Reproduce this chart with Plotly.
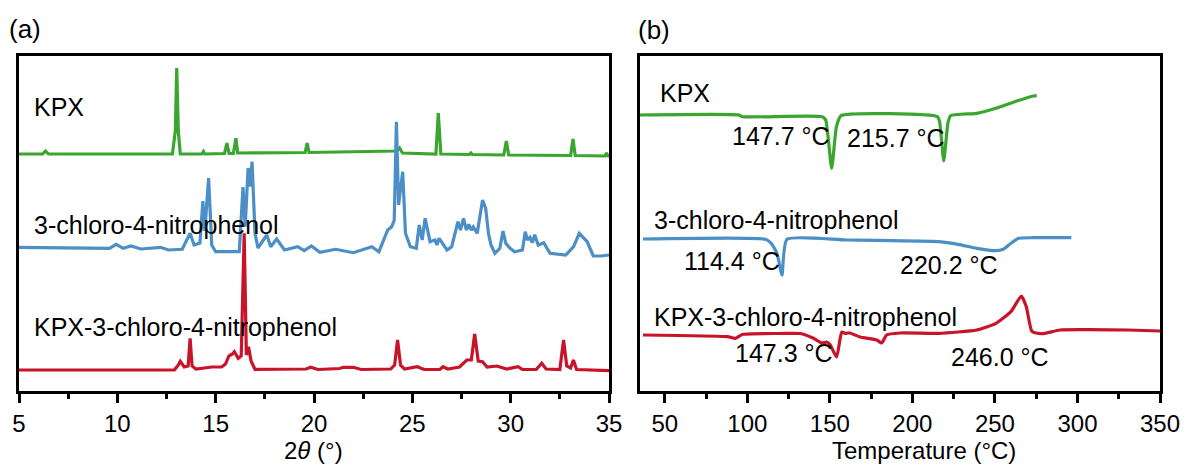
import plotly.graph_objects as go

# ---------------- Panel (a): XRD (2theta, intensity a.u., offset included) -------------
kpx_xrd_2theta = [5.0, 6.2, 6.35, 6.5, 12.8, 12.95, 13.02, 13.1, 13.2, 14.3, 14.38, 14.45,
                  15.45, 15.57, 15.68, 15.9, 16.03, 16.12, 19.55, 19.65, 19.75, 22.0, 24.2,
                  24.35, 24.5, 26.2, 26.32, 26.45, 27.9, 27.98, 28.05, 29.65, 29.78, 29.9,
                  33.05, 33.17, 33.28, 34.8, 34.87, 34.95, 35.0]
kpx_xrd_int = [237, 237, 240, 237, 237, 260, 323, 260, 237, 237, 239.5, 237,
               237.5, 248, 237.5, 237.5, 252.7, 238, 238.5, 248, 238.5, 239.5, 240,
               243, 238, 237, 278, 237, 236.5, 238, 236.5, 236, 250, 236,
               235.5, 252, 235.5, 235, 238, 235, 235]

cnp_xrd_2theta = [5.0, 9.6, 9.94, 10.3, 10.69, 11.2, 12.2, 12.6, 13.3, 13.5, 13.7, 13.9,
                  14.2, 14.35, 14.45, 14.64, 14.8, 15.0, 16.2, 16.39, 16.5, 16.65, 16.75,
                  16.85, 17.0, 17.15, 17.6, 17.8, 18.1, 18.5, 19.17, 19.5, 19.87, 20.3,
                  21.1, 22.0, 22.94, 23.3, 23.75, 23.95, 24.08, 24.19, 24.3, 24.51, 24.65,
                  24.9, 25.2, 25.35, 25.5, 25.65, 25.9, 26.15, 26.25, 26.36, 26.76, 27.0,
                  27.32, 27.45, 27.6, 27.75, 27.87, 28.0, 28.1, 28.3, 28.57, 28.73, 28.87,
                  29.0, 29.2, 29.45, 29.61, 29.75, 29.97, 30.2, 30.6, 30.74, 30.85, 30.98,
                  31.1, 31.22, 31.4, 31.68, 32.0, 32.8, 33.2, 33.49, 33.7, 33.89, 34.2,
                  34.6, 35.0]
cnp_xrd_int = [143.7, 142.7, 146.7, 142.7, 145, 142, 143.7, 141, 141.7, 150, 157.7, 146,
               148, 190, 160, 213, 146, 139.3, 139.3, 204, 164.3, 223, 204.3,
               229.3, 157.7, 143, 156, 144.3, 152, 141, 144.3, 140.3, 145, 138.7,
               141.7, 138.3, 144.3, 139.3, 161, 164.3, 171, 269.3, 186, 219.3, 157.7,
               144.3, 142.7, 166, 151, 172.7, 149.3, 151, 146, 152.7, 141, 144.3,
               169.3, 161, 172.7, 161, 166.7, 161, 164, 157.7, 191, 182.7, 157.7,
               146, 137.7, 142.7, 160, 147.7, 142.7, 139.3, 141, 159.3, 151, 153.7,
               148.3, 156.3, 146, 148.3, 137.7, 136, 144.3, 157.7, 153.7, 149.3, 135,
               135, 136]

cc_xrd_2theta = [5.0, 12.9, 13.1, 13.2, 13.4, 13.6, 13.7, 13.8, 14.0, 14.8, 15.3, 15.5,
                 15.67, 15.85, 15.95, 16.15, 16.3, 16.45, 16.56, 16.67, 16.8, 17.0, 19.6,
                 19.83, 20.2, 21.3, 21.5, 22.0, 22.4, 23.9, 24.1, 24.25, 24.4, 24.6, 25.25,
                 25.6, 26.4, 26.56, 26.8, 27.4, 27.77, 28.0, 28.17, 28.35, 28.57, 28.8,
                 29.3, 29.8, 30.38, 30.6, 31.3, 31.58, 31.8, 32.5, 32.69, 32.85, 33.05,
                 33.19, 33.35, 35.0]
cc_xrd_int = [21, 21, 26, 29.7, 24, 25, 52.7, 25, 22, 24, 24, 27,
              35, 37, 39.3, 32.7, 35, 157.7, 36, 44.3, 30, 21.7, 22,
              23.7, 21.5, 22.5, 23.7, 23.7, 21.5, 22, 26, 51, 26, 22, 24.3,
              21.5, 21.5, 24.3, 22, 24, 31, 31, 57, 30, 29.3, 24,
              25, 22, 24.3, 21.5, 21.5, 27.7, 22, 21.5, 51, 25, 23,
              31, 21.5, 20.3]

xrd_ticks = [5, 10, 15, 20, 25, 30, 35]

# ---------------- Panel (b): DSC (temperature, heat flow a.u., offset included) ---------
kpx_dsc_t = [35, 95, 97, 145.4, 147.5, 151.1, 154, 156.8, 215.1, 216.5, 219.0, 221.5,
             223.1, 239, 250.6, 262, 273.4, 275.3]
kpx_dsc_hf = [276, 276, 274.3, 274.3, 271, 222.7, 264.3, 275.3, 274.3, 269.3, 230, 267.7,
              275.3, 277.7, 282.7, 289.3, 295, 295.3]

cnp_dsc_t = [36.8, 111, 114.5, 118, 121, 124, 160, 216, 227.7, 239, 250.6, 255, 259.7,
             264.3, 273, 296.3]
cnp_dsc_hf = [152, 151.7, 147.7, 137.7, 116, 151.7, 151, 149.3, 146.7, 142.7, 140.3, 141.7,
              147.7, 152.7, 153.3, 153.3]

cc_dsc_t = [36.8, 88, 92.8, 97.4, 120, 132, 139.8, 145.2, 148, 150.1, 154.1, 157.2, 159.2,
            162.2, 168.3, 178.4, 181.4, 184.4, 192.5, 216, 239, 250.6, 259.7, 266, 269,
            272.3, 275.7, 280.3, 289.4, 307.7, 330.5, 350]
cc_dsc_hf = [56, 54.3, 52.7, 56.7, 57.5, 57.5, 53, 48, 49, 46.5, 34, 59, 57.7,
             58, 54, 51, 48, 56, 58, 57.7, 61, 67.7, 79.3, 95, 84.3,
             60, 57.7, 57.7, 61, 61.3, 61, 60]

dsc_ticks = [50, 100, 150, 200, 250, 300, 350]

GREEN = "#3aa62f"
BLUE = "#4b8fc6"
RED = "#c81428"
FONT = "Liberation Sans, Arial, sans-serif"

fig = go.Figure()
lw = 3.2
fig.add_trace(go.Scatter(x=kpx_xrd_2theta, y=kpx_xrd_int, mode="lines",
                         line=dict(color=GREEN, width=lw), xaxis="x", yaxis="y"))
fig.add_trace(go.Scatter(x=cnp_xrd_2theta, y=cnp_xrd_int, mode="lines",
                         line=dict(color=BLUE, width=lw), xaxis="x", yaxis="y"))
fig.add_trace(go.Scatter(x=cc_xrd_2theta, y=cc_xrd_int, mode="lines",
                         line=dict(color=RED, width=lw), xaxis="x", yaxis="y"))
fig.add_trace(go.Scatter(x=kpx_dsc_t, y=kpx_dsc_hf, mode="lines",
                         line=dict(color=GREEN, width=lw, shape="spline", smoothing=0.5),
                         xaxis="x2", yaxis="y2"))
fig.add_trace(go.Scatter(x=cnp_dsc_t, y=cnp_dsc_hf, mode="lines",
                         line=dict(color=BLUE, width=lw, shape="spline", smoothing=0.5),
                         xaxis="x2", yaxis="y2"))
fig.add_trace(go.Scatter(x=cc_dsc_t, y=cc_dsc_hf, mode="lines",
                         line=dict(color=RED, width=lw, shape="spline", smoothing=0.5),
                         xaxis="x2", yaxis="y2"))

W, H = 1190, 465
ya_dom = [1 - 391 / H, 1 - 56 / H]
axis_common = dict(showline=True, linecolor="black", linewidth=3, mirror=True,
                   tickwidth=2.5, tickcolor="black",
                   showgrid=False, zeroline=False, automargin=False,
                   tickfont=dict(family=FONT, size=24, color="black"))
fig.update_layout(
    width=W, height=H, margin=dict(l=0, r=0, t=0, b=0, autoexpand=False),
    paper_bgcolor="white", plot_bgcolor="white", showlegend=False,
    font=dict(family=FONT, size=24, color="black"),
    xaxis=dict(domain=[19 / W, 609 / W], range=[5, 35], tickvals=xrd_ticks,
               ticks="outside", ticklen=9,
               minor=dict(dtick=2.5, tick0=5, ticks="outside", ticklen=5, tickwidth=2.5,
                          tickcolor="black"),
               anchor="y", **axis_common),
    yaxis=dict(domain=ya_dom, range=[0, 335], showticklabels=False, anchor="x",
               ticks="", **axis_common),
    xaxis2=dict(domain=[640 / W, 1160 / W], range=[35, 350], tickvals=dsc_ticks,
                ticks="outside", ticklen=9,
                minor=dict(dtick=25, tick0=50, ticks="outside", ticklen=5, tickwidth=2.5,
                           tickcolor="black"),
                anchor="y2", **axis_common),
    yaxis2=dict(domain=ya_dom, range=[0, 335], showticklabels=False, anchor="x2",
                ticks="", **axis_common),
)

ann = []
def txt(x, y, s, xref, yref, xanchor="left", size=25):
    ann.append(dict(x=x, y=y, text=s, xref=xref, yref=yref, xanchor=xanchor,
                    yanchor="middle", showarrow=False, borderpad=0,
                    font=dict(family=FONT, size=size, color="black")))

# panel a labels
txt(5.7, 284, "KPX", "x", "y")
txt(5.7, 166, "3-chloro-4-nitrophenol", "x", "y")
txt(5.7, 64, "KPX-3-chloro-4-nitrophenol", "x", "y")
# panel b labels
txt(46.3, 298, "KPX", "x2", "y2")
txt(90.0, 255, "147.7 °C", "x2", "y2")
txt(159.6, 253, "215.7 °C", "x2", "y2")
txt(42.7, 171, "3-chloro-4-nitrophenol", "x2", "y2")
txt(60.8, 130, "114.4 °C", "x2", "y2")
txt(191.7, 126, "220.2 °C", "x2", "y2")
txt(42.7, 74, "KPX-3-chloro-4-nitrophenol", "x2", "y2")
txt(91.8, 38, "147.3 °C", "x2", "y2")
txt(222.6, 34, "246.0 °C", "x2", "y2")
# panel tags and axis titles (paper coords)
txt(8 / W, 1 - 29 / H, "(a)", "paper", "paper", size=26)
txt(637 / W, 1 - 30 / H, "(b)", "paper", "paper", size=26)
txt(313 / W, 1 - 450 / H, "2<i>θ</i> (°)", "paper", "paper", xanchor="center", size=24)
txt(924 / W, 1 - 450 / H, "Temperature (°C)", "paper", "paper", xanchor="center", size=24)
fig.update_layout(annotations=ann)

post = ("document.documentElement.style.margin='0';document.body.style.margin='0';"
        "document.body.style.padding='0';document.body.style.overflow='hidden';"
        "document.documentElement.style.overflow='hidden';")
fig.write_html("out.html", post_script=post, config={"displayModeBar": False})
